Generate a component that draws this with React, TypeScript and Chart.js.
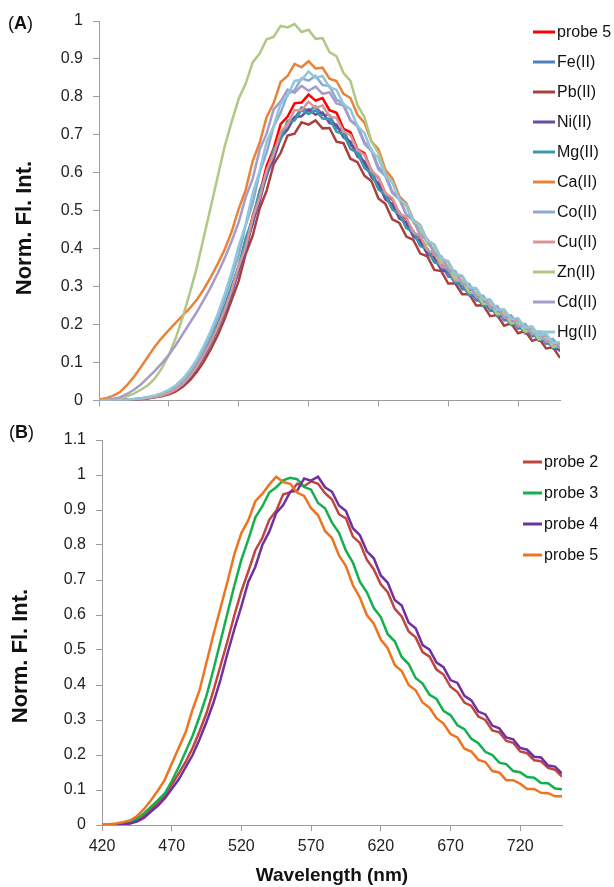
import React, { useEffect, useRef } from 'react';
import { Chart, registerables } from 'chart.js';

Chart.register(...registerables);

const FONT = '"Liberation Sans", Arial, Helvetica, sans-serif';

// ---------- shared x data ----------
const wavelengths = [
  420, 425, 430, 435, 440, 445, 450, 455, 460, 465,
  470, 475, 480, 485, 490, 495, 500, 505, 510, 515,
  520, 525, 530, 535, 540, 545, 550, 555, 560, 565,
  570, 575, 580, 585, 590, 595, 600, 605, 610, 615,
  620, 625, 630, 635, 640, 645, 650, 655, 660, 665,
  670, 675, 680, 685, 690, 695, 700, 705, 710, 715,
  720, 725, 730, 735, 740, 745, 750,
];
const xTicks = [420, 470, 520, 570, 620, 670, 720];
const yTicksA = [0, 0.1, 0.2, 0.3, 0.4, 0.5, 0.6, 0.7, 0.8, 0.9, 1];
const yTicksB = [0, 0.1, 0.2, 0.3, 0.4, 0.5, 0.6, 0.7, 0.8, 0.9, 1, 1.1];
const yTitle = 'Norm. Fl. Int.';
const xTitle = 'Wavelength (nm)';

// ---------- panel A ----------
const labelsA = ['probe 5', 'Fe(II)', 'Pb(II)', 'Ni(II)', 'Mg(II)', 'Ca(II)', 'Co(II)', 'Cu(II)', 'Zn(II)', 'Cd(II)', 'Hg(II)'];
const colorsA = ['#FF0000', '#4F81BD', '#A9403D', '#6A4C9C', '#3A97AE', '#E8833A', '#8EA9D0', '#D99694', '#AFC884', '#A89BC9', '#8FC7DB'];

const probe5A = [
  0, 0, 0, 0.001, 0.002, 0.003, 0.005, 0.007, 0.010, 0.014,
  0.020, 0.030, 0.045, 0.065, 0.090, 0.120, 0.155, 0.195, 0.240, 0.290,
  0.352, 0.410, 0.486, 0.544, 0.618, 0.664, 0.728, 0.748, 0.783, 0.785,
  0.806, 0.790, 0.797, 0.765, 0.758, 0.716, 0.707, 0.662, 0.652, 0.605,
  0.587, 0.546, 0.529, 0.493, 0.479, 0.443, 0.430, 0.394, 0.386, 0.352,
  0.346, 0.314, 0.311, 0.282, 0.281, 0.252, 0.251, 0.227, 0.226, 0.204,
  0.206, 0.182, 0.186, 0.162, 0.166, 0.144, 0.145,
];
const feA = [
  0, 0, 0, 0.001, 0.002, 0.003, 0.004, 0.006, 0.009, 0.013,
  0.019, 0.028, 0.042, 0.062, 0.087, 0.118, 0.152, 0.190, 0.235, 0.285,
  0.340, 0.411, 0.464, 0.541, 0.589, 0.657, 0.688, 0.737, 0.743, 0.772,
  0.763, 0.775, 0.753, 0.752, 0.718, 0.712, 0.673, 0.662, 0.623, 0.607,
  0.563, 0.547, 0.508, 0.497, 0.458, 0.447, 0.408, 0.400, 0.365, 0.359,
  0.326, 0.323, 0.293, 0.292, 0.263, 0.263, 0.236, 0.237, 0.211, 0.214,
  0.189, 0.193, 0.169, 0.173, 0.149, 0.153, 0.129,
];
const pbA = [
  0, 0, 0, 0, 0.001, 0.002, 0.003, 0.005, 0.008, 0.011,
  0.016, 0.024, 0.036, 0.053, 0.075, 0.102, 0.135, 0.172, 0.215, 0.265,
  0.315, 0.386, 0.434, 0.506, 0.553, 0.622, 0.652, 0.698, 0.703, 0.733,
  0.727, 0.738, 0.717, 0.718, 0.682, 0.678, 0.637, 0.628, 0.592, 0.578,
  0.532, 0.518, 0.477, 0.468, 0.432, 0.423, 0.387, 0.380, 0.344, 0.341,
  0.308, 0.308, 0.280, 0.280, 0.250, 0.251, 0.222, 0.225, 0.197, 0.203,
  0.177, 0.183, 0.157, 0.163, 0.137, 0.140, 0.112,
];
const niA = [
  0, 0, 0, 0.001, 0.002, 0.003, 0.004, 0.006, 0.009, 0.013,
  0.019, 0.028, 0.041, 0.060, 0.085, 0.115, 0.150, 0.188, 0.232, 0.282,
  0.345, 0.395, 0.471, 0.524, 0.597, 0.634, 0.692, 0.714, 0.747, 0.749,
  0.767, 0.753, 0.759, 0.731, 0.727, 0.693, 0.682, 0.643, 0.630, 0.588,
  0.572, 0.530, 0.517, 0.479, 0.469, 0.431, 0.421, 0.385, 0.377, 0.343,
  0.339, 0.308, 0.306, 0.277, 0.277, 0.249, 0.249, 0.222, 0.224, 0.199,
  0.202, 0.177, 0.181, 0.157, 0.161, 0.137, 0.134,
];
const mgA = [
  0, 0, 0, 0.001, 0.002, 0.003, 0.005, 0.007, 0.010, 0.015,
  0.022, 0.032, 0.047, 0.068, 0.094, 0.126, 0.162, 0.203, 0.250, 0.302,
  0.355, 0.428, 0.479, 0.554, 0.598, 0.662, 0.688, 0.732, 0.738, 0.765,
  0.755, 0.765, 0.743, 0.742, 0.708, 0.702, 0.663, 0.652, 0.613, 0.599,
  0.556, 0.543, 0.503, 0.492, 0.454, 0.444, 0.407, 0.399, 0.364, 0.358,
  0.340, 0.309, 0.307, 0.278, 0.277, 0.249, 0.250, 0.223, 0.225, 0.200,
  0.203, 0.179, 0.183, 0.159, 0.163, 0.139, 0.141,
];
const caA = [
  0.002, 0.006, 0.012, 0.022, 0.040, 0.062, 0.088, 0.115, 0.142, 0.165,
  0.185, 0.205, 0.224, 0.243, 0.265, 0.293, 0.325, 0.360, 0.398, 0.445,
  0.505, 0.555, 0.631, 0.679, 0.747, 0.783, 0.839, 0.855, 0.887, 0.878,
  0.894, 0.875, 0.877, 0.848, 0.842, 0.808, 0.797, 0.753, 0.732, 0.683,
  0.662, 0.608, 0.585, 0.538, 0.520, 0.476, 0.462, 0.421, 0.410, 0.373,
  0.365, 0.331, 0.327, 0.296, 0.294, 0.265, 0.264, 0.237, 0.238, 0.212,
  0.214, 0.189, 0.193, 0.169, 0.173, 0.149, 0.150,
];
const coA = [
  0, 0, 0, 0.001, 0.002, 0.003, 0.005, 0.008, 0.011, 0.016,
  0.024, 0.035, 0.051, 0.073, 0.100, 0.134, 0.173, 0.217, 0.268, 0.325,
  0.383, 0.461, 0.519, 0.601, 0.653, 0.722, 0.758, 0.807, 0.818, 0.849,
  0.843, 0.855, 0.831, 0.829, 0.793, 0.782, 0.738, 0.722, 0.676, 0.657,
  0.609, 0.591, 0.546, 0.530, 0.488, 0.475, 0.435, 0.425, 0.388, 0.380,
  0.346, 0.341, 0.310, 0.307, 0.277, 0.276, 0.248, 0.249, 0.222, 0.224,
  0.199, 0.202, 0.178, 0.182, 0.158, 0.162, 0.140,
];
const cuA = [
  0, 0, 0, 0.001, 0.002, 0.003, 0.004, 0.006, 0.009, 0.013,
  0.019, 0.029, 0.043, 0.063, 0.088, 0.119, 0.154, 0.193, 0.238, 0.290,
  0.353, 0.404, 0.481, 0.534, 0.607, 0.648, 0.707, 0.728, 0.765, 0.765,
  0.787, 0.771, 0.777, 0.749, 0.744, 0.709, 0.699, 0.660, 0.647, 0.605,
  0.589, 0.546, 0.533, 0.493, 0.482, 0.443, 0.433, 0.396, 0.388, 0.353,
  0.348, 0.316, 0.314, 0.284, 0.283, 0.255, 0.255, 0.228, 0.229, 0.204,
  0.207, 0.182, 0.186, 0.162, 0.166, 0.142, 0.144,
];
const znA = [
  0, 0.001, 0.003, 0.006, 0.011, 0.018, 0.028, 0.040, 0.058, 0.085,
  0.120, 0.165, 0.220, 0.283, 0.350, 0.430, 0.510, 0.590, 0.670, 0.735,
  0.795, 0.835, 0.891, 0.914, 0.952, 0.958, 0.987, 0.983, 0.992, 0.971,
  0.977, 0.953, 0.955, 0.918, 0.907, 0.863, 0.842, 0.778, 0.747, 0.683,
  0.652, 0.598, 0.575, 0.528, 0.512, 0.468, 0.452, 0.411, 0.400, 0.363,
  0.355, 0.321, 0.317, 0.286, 0.284, 0.255, 0.255, 0.228, 0.229, 0.203,
  0.206, 0.181, 0.185, 0.161, 0.165, 0.141, 0.145,
];
const cdA = [
  0, 0.001, 0.004, 0.008, 0.017, 0.028, 0.042, 0.060, 0.078, 0.098,
  0.120, 0.146, 0.175, 0.204, 0.233, 0.265, 0.298, 0.335, 0.375, 0.420,
  0.470, 0.536, 0.584, 0.661, 0.703, 0.767, 0.788, 0.819, 0.811, 0.829,
  0.816, 0.827, 0.808, 0.812, 0.783, 0.777, 0.738, 0.725, 0.681, 0.663,
  0.615, 0.597, 0.550, 0.534, 0.490, 0.477, 0.436, 0.425, 0.387, 0.379,
  0.344, 0.339, 0.307, 0.304, 0.274, 0.273, 0.245, 0.245, 0.218, 0.220,
  0.195, 0.198, 0.174, 0.178, 0.154, 0.158, 0.136,
];
const hgA = [
  0, 0, 0, 0.001, 0.002, 0.004, 0.006, 0.009, 0.013, 0.019,
  0.028, 0.040, 0.057, 0.080, 0.108, 0.143, 0.183, 0.228, 0.280, 0.338,
  0.407, 0.464, 0.546, 0.604, 0.682, 0.723, 0.782, 0.803, 0.842, 0.845,
  0.867, 0.850, 0.855, 0.825, 0.819, 0.781, 0.767, 0.723, 0.705, 0.658,
  0.639, 0.593, 0.575, 0.531, 0.516, 0.474, 0.461, 0.421, 0.411, 0.374,
  0.367, 0.333, 0.329, 0.298, 0.296, 0.267, 0.266, 0.239, 0.240, 0.214,
  0.217, 0.192, 0.195, 0.171, 0.175, 0.151, 0.153,
];
const seriesA = [probe5A, feA, pbA, niA, mgA, caA, coA, cuA, znA, cdA, hgA];

// ---------- panel B ----------
const labelsB = ['probe 2', 'probe 3', 'probe 4', 'probe 5'];
const colorsB = ['#C0453F', '#13B04F', '#7030A0', '#EE7420'];

const probe2B = [
  0, 0, 0.001, 0.003, 0.005, 0.012, 0.025, 0.045, 0.063, 0.085,
  0.115, 0.147, 0.180, 0.220, 0.268, 0.320, 0.385, 0.455, 0.525, 0.600,
  0.668, 0.725, 0.785, 0.820, 0.872, 0.898, 0.945, 0.950, 0.975, 0.968,
  0.982, 0.975, 0.948, 0.930, 0.888, 0.876, 0.824, 0.806, 0.758, 0.730,
  0.688, 0.665, 0.618, 0.596, 0.553, 0.536, 0.494, 0.481, 0.444, 0.430,
  0.395, 0.380, 0.350, 0.340, 0.310, 0.300, 0.270, 0.265, 0.240, 0.235,
  0.210, 0.205, 0.185, 0.182, 0.163, 0.158, 0.138,
];
const probe3B = [
  0, 0.001, 0.002, 0.004, 0.008, 0.018, 0.033, 0.052, 0.070, 0.090,
  0.125, 0.165, 0.210, 0.255, 0.310, 0.370, 0.445, 0.525, 0.605, 0.685,
  0.758, 0.816, 0.879, 0.910, 0.950, 0.965, 0.985, 0.992, 0.988, 0.966,
  0.958, 0.920, 0.905, 0.864, 0.835, 0.784, 0.750, 0.695, 0.665, 0.620,
  0.594, 0.545, 0.525, 0.480, 0.460, 0.420, 0.404, 0.372, 0.360, 0.326,
  0.314, 0.285, 0.274, 0.246, 0.234, 0.209, 0.200, 0.178, 0.174, 0.154,
  0.151, 0.137, 0.135, 0.120, 0.119, 0.104, 0.102,
];
const probe4B = [
  0, 0, 0.001, 0.002, 0.004, 0.010, 0.020, 0.038, 0.055, 0.076,
  0.103, 0.130, 0.165, 0.200, 0.245, 0.295, 0.350, 0.415, 0.490, 0.560,
  0.625, 0.695, 0.738, 0.800, 0.838, 0.892, 0.914, 0.952, 0.955, 0.990,
  0.984, 0.995, 0.965, 0.952, 0.913, 0.897, 0.848, 0.828, 0.782, 0.762,
  0.713, 0.692, 0.643, 0.627, 0.578, 0.562, 0.514, 0.501, 0.464, 0.451,
  0.414, 0.406, 0.369, 0.356, 0.324, 0.316, 0.284, 0.276, 0.250, 0.245,
  0.220, 0.215, 0.195, 0.193, 0.170, 0.167, 0.147,
];
const probe5B = [
  0, 0.002, 0.004, 0.008, 0.013, 0.025, 0.045, 0.070, 0.098, 0.129,
  0.175, 0.220, 0.265, 0.330, 0.385, 0.465, 0.545, 0.620, 0.695, 0.775,
  0.834, 0.871, 0.925, 0.946, 0.973, 0.995, 0.980, 0.975, 0.950, 0.940,
  0.905, 0.885, 0.840, 0.820, 0.770, 0.740, 0.685, 0.650, 0.600, 0.575,
  0.530, 0.505, 0.457, 0.440, 0.400, 0.385, 0.350, 0.335, 0.305, 0.290,
  0.260, 0.250, 0.218, 0.210, 0.186, 0.180, 0.154, 0.150, 0.128, 0.128,
  0.118, 0.103, 0.103, 0.092, 0.091, 0.082, 0.082,
];
const seriesB = [probe2B, probe3B, probe4B, probe5B];

// ---------- chart builder ----------
type PanelSpec = {
  top: number;
  height: number;
  labels: string[];
  colors: string[];
  series: number[][];
  yTicks: number[];
  yMax: number;
  showXLabels: boolean;
  padTop: number;
  padRight: number;
  yAxisWidth: number;
  xAxisHeight: number;
  panelLetter: string;
  panelX: number;
  panelY: number;
  legendX: number;
  legendY: number;
  legendDy: number;
  legendLine: number;
  yTitleX: number;
  yTitleY: number;
  yTitleSize: number;
};

function buildConfig(spec: PanelSpec): any {
  const axisColor = '#9c9c9c';
  const datasets = spec.series.map((vals, i) => ({
    label: spec.labels[i],
    data: wavelengths.map((w, j) => ({ x: w, y: vals[j] })),
    borderColor: spec.colors[i],
    backgroundColor: spec.colors[i],
    borderWidth: 2.5,
    pointRadius: 0,
    tension: 0,
    fill: false,
    order: -i,
  }));

  const decorPlugin = {
    id: 'decor' + spec.panelLetter,
    afterDraw(chart: any) {
      const ctx = chart.ctx;
      ctx.save();
      ctx.font = `16px ${FONT}`;
      ctx.textBaseline = 'middle';
      ctx.textAlign = 'left';
      chart.data.datasets.forEach((ds: any, i: number) => {
        const y = spec.legendY + i * spec.legendDy;
        ctx.strokeStyle = ds.borderColor;
        ctx.lineWidth = 3;
        ctx.beginPath();
        ctx.moveTo(spec.legendX, y);
        ctx.lineTo(spec.legendX + spec.legendLine, y);
        ctx.stroke();
        ctx.fillStyle = '#111';
        ctx.fillText(ds.label, spec.legendX + spec.legendLine + 2, y + 1);
      });
      // panel letter "(A)" / "(B)"
      ctx.fillStyle = '#111';
      let x = spec.panelX;
      ctx.font = `18px ${FONT}`;
      ctx.fillText('(', x, spec.panelY);
      x += ctx.measureText('(').width;
      ctx.font = `bold 18px ${FONT}`;
      ctx.fillText(spec.panelLetter, x, spec.panelY);
      x += ctx.measureText(spec.panelLetter).width;
      ctx.font = `18px ${FONT}`;
      ctx.fillText(')', x, spec.panelY);
      // y axis title
      ctx.translate(spec.yTitleX, spec.yTitleY);
      ctx.rotate(-Math.PI / 2);
      ctx.textAlign = 'center';
      ctx.font = `bold ${spec.yTitleSize}px ${FONT}`;
      ctx.fillText(yTitle, 0, 0);
      ctx.restore();
    },
  };

  return {
    type: 'line',
    data: { datasets },
    plugins: [decorPlugin],
    options: {
      animation: false,
      responsive: false,
      maintainAspectRatio: false,
      layout: { padding: { top: spec.padTop, right: spec.padRight, bottom: 0, left: 0 } },
      plugins: { legend: { display: false }, tooltip: { enabled: false } },
      scales: {
        x: {
          type: 'linear',
          min: 420,
          max: 750,
          afterBuildTicks: (scale: any) => {
            scale.ticks = xTicks.map((v) => ({ value: v }));
          },
          afterFit: (scale: any) => {
            scale.height = spec.xAxisHeight;
          },
          border: { color: axisColor, width: 1 },
          grid: { drawOnChartArea: false, drawTicks: true, tickLength: 6, color: axisColor },
          ticks: {
            autoSkip: false,
            maxRotation: 0,
            padding: 6,
            color: '#222',
            font: { family: FONT, size: 16 },
            callback: (v: any) => (spec.showXLabels ? String(v) : ''),
          },
          title: {
            display: spec.showXLabels,
            text: xTitle,
            color: '#111',
            font: { family: FONT, size: 19, weight: 'bold' },
            padding: { top: 0, bottom: 0 },
          },
        },
        y: {
          type: 'linear',
          min: 0,
          max: spec.yMax,
          afterBuildTicks: (scale: any) => {
            scale.ticks = spec.yTicks.map((v) => ({ value: v }));
          },
          afterFit: (scale: any) => {
            scale.width = spec.yAxisWidth;
          },
          border: { color: axisColor, width: 1 },
          grid: { drawOnChartArea: false, drawTicks: true, tickLength: 6, color: axisColor },
          ticks: {
            autoSkip: false,
            padding: 10,
            color: '#222',
            font: { family: FONT, size: 16 },
            callback: (v: any) => String(v),
          },
        },
      },
    },
  };
}

function ChartPanel({ spec }: { spec: PanelSpec }) {
  const ref = useRef<HTMLCanvasElement | null>(null);
  useEffect(() => {
    if (!ref.current) return;
    const chart = new Chart(ref.current, buildConfig(spec));
    return () => chart.destroy();
  }, [spec]);
  return (
    <canvas
      ref={ref}
      width={614}
      height={spec.height}
      style={{ position: 'absolute', left: 0, top: spec.top, width: 614, height: spec.height, display: 'block' }}
    />
  );
}

const specA: PanelSpec = {
  top: 0,
  height: 420,
  labels: labelsA,
  colors: colorsA,
  series: seriesA,
  yTicks: yTicksA,
  yMax: 1,
  showXLabels: false,
  padTop: 21,
  padRight: 54,
  yAxisWidth: 99,
  xAxisHeight: 10,
  panelLetter: 'A',
  panelX: 8,
  panelY: 24,
  legendX: 533,
  legendY: 32,
  legendDy: 30,
  legendLine: 22,
  yTitleX: 25,
  yTitleY: 228,
  yTitleSize: 22,
};

const specB: PanelSpec = {
  top: 420,
  height: 467,
  labels: labelsB,
  colors: colorsB,
  series: seriesB,
  yTicks: yTicksB,
  yMax: 1.1,
  showXLabels: true,
  padTop: 20,
  padRight: 52,
  yAxisWidth: 102,
  xAxisHeight: 62,
  panelLetter: 'B',
  panelX: 9,
  panelY: 13,
  legendX: 523,
  legendY: 42,
  legendDy: 31,
  legendLine: 19,
  yTitleX: 21,
  yTitleY: 236,
  yTitleSize: 22,
};

export default function App() {
  return (
    <div style={{ position: 'absolute', left: 0, top: 0, width: 614, height: 887, background: '#fff', overflow: 'hidden' }}>
      <ChartPanel spec={specA} />
      <ChartPanel spec={specB} />
    </div>
  );
}
